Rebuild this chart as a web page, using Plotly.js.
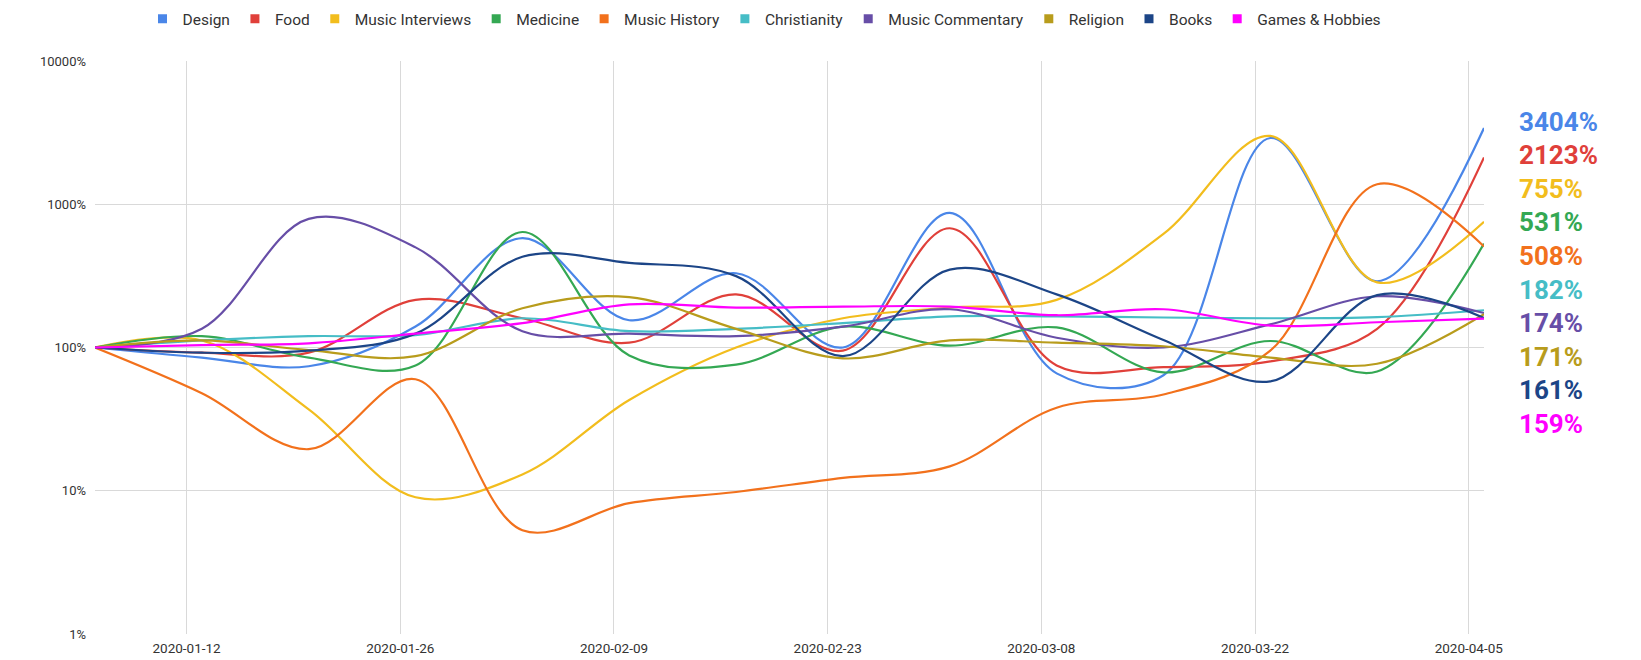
<!DOCTYPE html>
<html>
<head>
<meta charset="utf-8">
<script src="https://cdn.plot.ly/plotly-3.0.1.min.js"></script>
<style>
  html, body { margin: 0; padding: 0; background: #ffffff; }
  #chart { width: 1641px; height: 660px; }
</style>
</head>
<body>
<div id="chart"></div>
<script>
// Weekly growth relative to the first week (percent, 100 = unchanged)
const weeks = ['2020-01-06', '2020-01-13', '2020-01-20', '2020-01-27', '2020-02-03',
  '2020-02-10', '2020-02-17', '2020-02-24', '2020-03-02', '2020-03-09',
  '2020-03-16', '2020-03-23', '2020-03-30', '2020-04-06'];

const categories = ['Design', 'Food', 'Music Interviews', 'Medicine', 'Music History',
  'Christianity', 'Music Commentary', 'Religion', 'Books', 'Games & Hobbies'];

const design          = [100, 85, 74, 140, 580, 155, 330, 100, 870, 66, 64, 2900, 290, 3404];
const food            = [100, 92, 92, 215, 160, 108, 235, 95, 680, 75, 73, 80, 135, 2123];
const musicInterviews = [100, 112, 37, 9.0, 13, 43, 100, 160, 190, 215, 620, 3000, 285, 755];
const medicine        = [100, 120, 85, 75, 640, 88, 76, 140, 103, 138, 67, 111, 68, 531];
const musicHistory    = [100, 48, 19.5, 60, 5.3, 8.2, 9.8, 12.3, 14.8, 38, 47, 95, 1380, 508];
const christianity    = [100, 112, 120, 122, 160, 130, 135, 148, 165, 165, 162, 160, 163, 182];
const musicCommentary = [100, 135, 790, 500, 130, 125, 120, 140, 185, 117, 100, 145, 228, 174];
const religion        = [100, 112, 96, 87, 188, 225, 135, 84, 112, 108, 102, 85, 77, 171];
const books           = [100, 92, 95, 125, 430, 390, 315, 87, 350, 235, 113, 58, 232, 161];
const gamesHobbies    = [100, 104, 107, 125, 148, 200, 190, 193, 193, 168, 185, 142, 150, 159];

const yTickVals = [1, 10, 100, 1000, 10000];
const yTickText = ['1%', '10%', '100%', '1000%', '10000%'];

const seriesValues = [design, food, musicInterviews, medicine, musicHistory,
  christianity, musicCommentary, religion, books, gamesHobbies];

const colors = ['#4a86e8', '#e0403a', '#f2bd1d', '#34a853', '#f2711c',
  '#46bdc6', '#674ea7', '#b89c1c', '#1c4587', '#ff00ff'];

const FONT = 'Roboto, "Liberation Sans", Arial, sans-serif';

const traces = [];
// smooth lines
categories.forEach((name, i) => {
  traces.push({
    type: 'scatter', mode: 'lines', name: name,
    x: weeks, y: seriesValues[i],
    line: { color: colors[i], width: 2.2, shape: 'spline', smoothing: 1.0 },
    legendgroup: name, showlegend: false,
    hovertemplate: '%{x}<br>%{y}%<extra>' + name + '</extra>'
  });
});
// square swatches for the legend
categories.forEach((name, i) => {
  traces.push({
    type: 'scatter', mode: 'markers', name: name,
    x: [null], y: [null],
    marker: { color: colors[i], symbol: 'square', size: 9 },
    legendgroup: name, showlegend: true, hoverinfo: 'skip'
  });
});

// final-week values listed at the right, top to bottom
const annotations = categories.map((name, i) => {
  const last = seriesValues[i][seriesValues[i].length - 1];
  return {
    xref: 'paper', yref: 'paper', x: 1.0235, y: 0.894 - 0.0586 * i,
    xanchor: 'left', yanchor: 'middle', showarrow: false,
    text: '<b>' + last + '%</b>',
    font: { family: FONT, size: 26, color: colors[i] }
  };
});

const layout = {
  width: 1641, height: 660,
  margin: { l: 95, r: 157, t: 61, b: 26, autoexpand: false },
  paper_bgcolor: '#ffffff', plot_bgcolor: '#ffffff',
  showlegend: true,
  legend: {
    orientation: 'h', x: 0.482, xanchor: 'center', y: 1.073, yanchor: 'middle',
    font: { family: FONT, size: 15.5, color: '#333333' },
    bgcolor: 'rgba(0,0,0,0)', itemclick: false
  },
  xaxis: {
    type: 'date', range: ['2020-01-06', '2020-04-06'],
    tick0: '2020-01-12', dtick: 14 * 86400000, tickformat: '%Y-%m-%d',
    showgrid: true, gridcolor: '#d9d9d9', gridwidth: 1,
    zeroline: false, showline: false, ticks: '',
    tickfont: { family: FONT, size: 13.5, color: '#333333' },
    ticklabelstandoff: 4
  },
  yaxis: {
    type: 'log', range: [0, 4],
    tickmode: 'array', tickvals: yTickVals, ticktext: yTickText,
    showgrid: true, gridcolor: '#d9d9d9', gridwidth: 1,
    zeroline: false, showline: false, ticks: '',
    tickfont: { family: FONT, size: 13, color: '#333333' },
    ticklabelstandoff: 8
  },
  annotations: annotations
};

Plotly.newPlot('chart', traces, layout, { displayModeBar: false, staticPlot: true });
</script>
</body>
</html>
